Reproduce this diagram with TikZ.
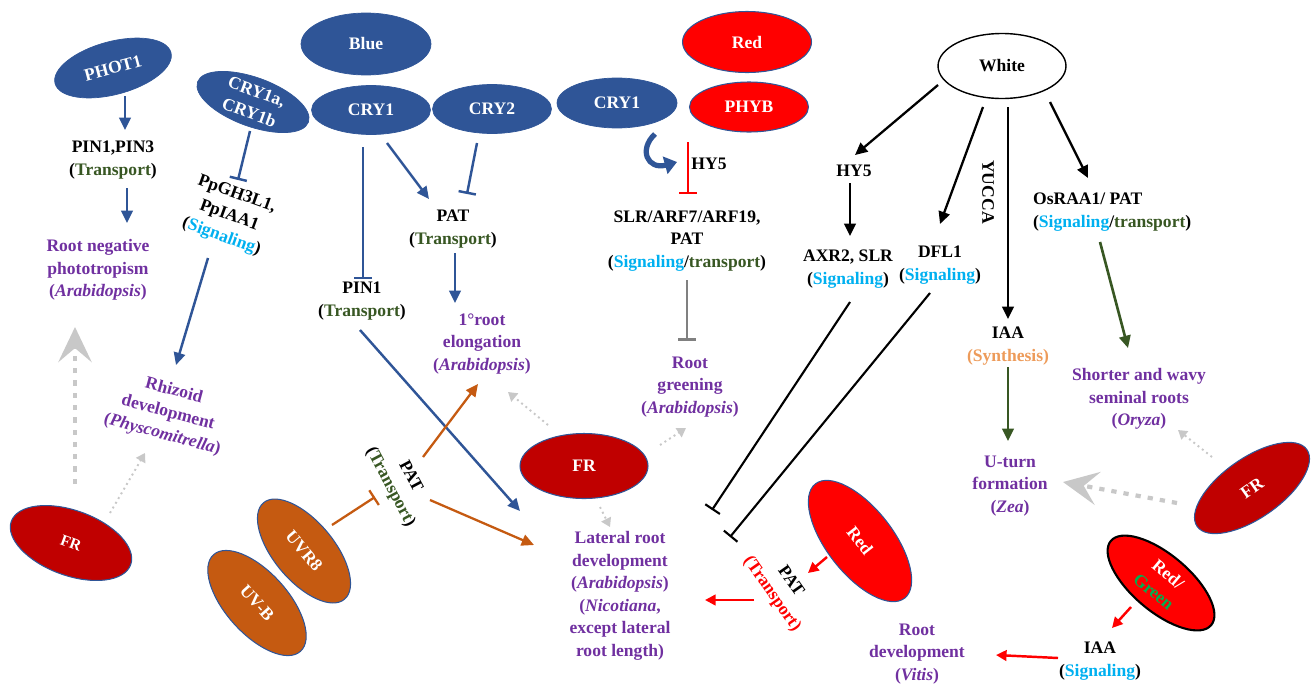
\documentclass[tikz,border=0pt]{standalone}
\usepackage{fontspec}
\setmainfont{Liberation Serif}
\usetikzlibrary{arrows.meta,shapes.geometric}
\definecolor{dblue}{HTML}{2F5597}
\definecolor{fred}{HTML}{C00000}
\definecolor{rred}{HTML}{FF0000}
\definecolor{orng}{HTML}{C55A11}
\definecolor{tgreen}{HTML}{385723}
\definecolor{sblue}{HTML}{00B0F0}
\definecolor{purp}{HTML}{7030A0}
\definecolor{synth}{HTML}{ED9B5A}
\definecolor{lgrey}{HTML}{C8C8C8}
\definecolor{mgrey}{HTML}{808080}
\definecolor{ggreen}{HTML}{00B050}
\newcommand\TrLab{(\textcolor{tgreen}{Transport})}
\newcommand\SigLab{(\textcolor{sblue}{Signaling})}
\newcommand\SigTr{(\textcolor{sblue}{Signaling}/\textcolor{tgreen}{transport})}
\newcommand\AraLab{(\textit{Arabidopsis})}
\begin{document}
\begin{tikzpicture}[x=0.02cm, y=-0.02cm,
  base/.style={font=\bfseries\fontsize{10}{12.8}\selectfont, align=center, inner sep=1pt},
  lab/.style={base, text=black},
  res/.style={base, text=purp},
  wtxt/.style={base, text=white},
  ellb/.style={base, ellipse, inner sep=0pt, text=white},
  blueE/.style={ellb, fill=dblue, draw=dblue},
  redE/.style={ellb, fill=rred, draw=dblue, line width=0.6pt},
  frE/.style={ellb, fill=fred, draw=dblue, line width=0.6pt},
  orE/.style={ellb, fill=orng, draw=dblue, line width=0.6pt},
  actB/.style={draw=dblue, line width=1.4pt, -{Triangle[length=7pt,width=6.5pt]}},
  inhB/.style={draw=dblue, line width=1.4pt, -{Bar[width=10pt]}},
  actK/.style={draw=black, line width=1.3pt, -{Triangle[length=7pt,width=6.5pt]}},
  inhK/.style={draw=black, line width=1.2pt, -{Bar[width=10pt]}},
  actR/.style={draw=rred, line width=1.4pt, -{Triangle[length=6pt,width=6pt]}},
  inhR/.style={draw=rred, line width=1.4pt, -{Bar[width=10pt]}},
  inhG/.style={draw=mgrey, line width=1.6pt, -{Bar[width=10pt]}},
  actG/.style={draw=tgreen, line width=1.5pt, -{Triangle[length=7pt,width=6.5pt]}},
  actO/.style={draw=orng, line width=1.3pt, -{Triangle[length=7pt,width=6.5pt]}},
  inhO/.style={draw=orng, line width=1.3pt, -{Bar[width=10pt]}},
  dotS/.style={draw=lgrey, line width=1.1pt, dotted, -{Triangle[length=5pt,width=6pt]}},
  dashL/.style={draw=lgrey, line width=2.4pt, dash pattern=on 3pt off 4pt, -{Stealth[length=20pt,width=19pt,inset=8pt]}},
]
\useasboundingbox (0,0) rectangle (1311,683);

% ---------- ellipses ----------
\node[blueE, minimum width=2.6cm, minimum height=1.24cm] (blue) at (366,44) {Blue};
\node[blueE, minimum width=2.38cm, minimum height=0.98cm] (cry1) at (371,110) {CRY1};
\node[blueE, minimum width=2.38cm, minimum height=0.98cm] (cry2) at (492,109) {CRY2};
\node[blueE, minimum width=2.4cm, minimum height=1.0cm] (cry1r) at (617,103) {CRY1};
\node[redE, minimum width=2.58cm, minimum height=1.22cm] (redtop) at (747,42) {Red};
\node[redE, minimum width=2.38cm, minimum height=1.0cm] (phyb) at (749,107) {PHYB};
\node[ellb, draw=black, fill=white, text=black, line width=0.8pt, minimum width=2.56cm, minimum height=1.3cm] (white) at (1002,66) {White};
\node[blueE, minimum width=2.4cm, minimum height=1.06cm, rotate=15] (phot) at (113,68) {PHOT1};
\node[blueE, minimum width=2.36cm, minimum height=0.98cm, rotate=-20] (cry1ab) at (253,102) {};
\node[wtxt, rotate=-20] (cry1abt) at (cry1ab) {CRY1a,\\CRY1b};

\node[frE, minimum width=2.54cm, minimum height=1.3cm, rotate=-20, font=\bfseries\fontsize{9}{11}\selectfont] (fr1) at (71,543) {FR};
\node[orE, minimum width=2.52cm, minimum height=1.2cm, rotate=-50] (uvr8) at (304,551) {UVR8};
\node[orE, minimum width=2.6cm, minimum height=1.24cm, rotate=-48] (uvb) at (257,603) {UV-B};
\node[frE, minimum width=2.56cm, minimum height=1.3cm] (fr2) at (584,466) {FR};
\node[redE, minimum width=2.9cm, minimum height=1.32cm, rotate=-52] (redm) at (860,541) {Red};
\node[frE, minimum width=2.68cm, minimum height=1.2cm, rotate=35] (fr3) at (1252,488) {FR};
\node[redE, draw=black, line width=1.2pt, minimum width=2.62cm, minimum height=1.14cm, rotate=-40] (rg) at (1161,583) {};
\node[wtxt, rotate=-40] (rgt) at (rg) {Red/\\\textcolor{ggreen}{Green}};

% ---------- text nodes ----------
\node[lab] (pinA) at (113,160) {PIN1,PIN3\\\TrLab};
\node[res] (rneg) at (98,270) {Root negative\\phototropism\\\AraLab};
\node[lab, rotate=-20] (ppgh) at (229,216) {PpGH3L1,\\PpIAA1\\\SigLab};
\node[res, rotate=-15] (rhiz) at (168,413) {Rhizoid\\development\\(\textit{Physcomitrella})};
\node[lab] (pat1) at (453,229) {PAT\\\TrLab};
\node[lab] (pin1) at (362,301) {PIN1\\\TrLab};
\node[res] (elong) at (482,344) {1°root\\elongation\\\AraLab};
\node[lab] (slr) at (687,241) {SLR/ARF7/ARF19,\\PAT\\\SigTr};
\node[lab] (hy5a) at (709,164) {HY5};
\node[res] (green) at (690,387) {Root\\greening\\\AraLab};
\node[res] (lat) at (620,596) {Lateral root\\development\\\AraLab\\(\textit{Nicotiana},\\except lateral\\root length)};
\node[lab, rotate=-62] (patU) at (400,482) {PAT\\\TrLab};
\node[lab, rotate=-55] (patR) at (781,588) {PAT\\\textcolor{rred}{(Transport)}};
\node[lab] (hy5b) at (854,171) {HY5};
\node[lab] (axr) at (848,269) {AXR2, SLR\\\SigLab};
\node[lab] (dfl) at (940,265) {DFL1\\\SigLab};
\node[lab, rotate=-90] (yucca) at (988,192) {YUCCA};
\node[lab] (iaa1) at (1008,346) {IAA\\\textcolor{synth}{(Synthesis)}};
\node[res] (uturn) at (1010,486) {U-turn\\formation\\(\textit{Zea})};
\node[lab, align=left, anchor=west] (osraa) at (1031,212) {OsRAA1/ PAT\\\SigTr};
\node[res] (short) at (1139,399) {Shorter and wavy\\seminal roots\\(\textit{Oryza})};
\node[lab] (iaa2) at (1100,661) {IAA\\\SigLab};
\node[res] (vitis) at (917,654) {Root\\development\\(\textit{Vitis})};

% ---------- connector end points ----------
\coordinate (photS) at (125,96);   \coordinate (pinAN) at (125,130);
\coordinate (pinAS) at (127,188);  \coordinate (rnegN) at (127,223);
\coordinate (cryabS) at (250,131); \coordinate (ppghN) at (238,180);
\coordinate (ppghS) at (208,258);  \coordinate (rhizN) at (176,365);
\coordinate (cry1S) at (363,147);  \coordinate (pin1N) at (363,279);
\coordinate (cry1SE) at (387,143); \coordinate (pat1NW) at (429,199);
\coordinate (cry2S) at (477,143);  \coordinate (pat1NE) at (467,194);
\coordinate (pat1S) at (455,253);  \coordinate (elongN) at (455,303);
\coordinate (pin1S) at (360,330);  \coordinate (latNW) at (520,511);
\coordinate (crS) at (655,134);    \coordinate (hyTip) at (677,162);
\coordinate (hyT) at (688,142);    \coordinate (slrN) at (688,194);
\coordinate (slrS) at (687,280);   \coordinate (greenN) at (687,341);
\coordinate (redmW) at (827,557);  \coordinate (patRN) at (808,573);
\coordinate (patRW) at (754,600);  \coordinate (latE) at (705,600);
\coordinate (rgS) at (1131,607);   \coordinate (iaa2N) at (1112,628);
\coordinate (iaa2W) at (1058,658); \coordinate (vitisE) at (996,655);
\coordinate (whA) at (938,85);     \coordinate (hy5bN) at (855,155);
\coordinate (hy5bS) at (850,183);  \coordinate (axrN) at (850,236);
\coordinate (whB) at (983,107);    \coordinate (dflN) at (940,224);
\coordinate (whC) at (1008,107);   \coordinate (iaa1N) at (1008,319);
\coordinate (whD) at (1050,102);   \coordinate (osraaN) at (1088,178);
\coordinate (axrS) at (850,302);   \coordinate (latI1) at (712,510);
\coordinate (dflS) at (930,293);   \coordinate (latI2) at (730,537);
\coordinate (iaa1S) at (1008,367); \coordinate (uturnN) at (1008,441);
\coordinate (osraaS) at (1100,242);\coordinate (shortN) at (1128,348);
\coordinate (patUNE) at (423,457); \coordinate (elongSW) at (478,384);
\coordinate (patUE) at (430,500);  \coordinate (latW) at (534,545);
\coordinate (uvr8NE) at (332,525); \coordinate (patUSW) at (375,497);
\coordinate (fr1N) at (75,484);    \coordinate (rnegS) at (75,327);
\coordinate (fr1NE) at (110,513);  \coordinate (rhizS) at (145,453);
\coordinate (fr2NW) at (548,425);  \coordinate (elongSE) at (508,392);
\coordinate (fr2NE) at (660,445);  \coordinate (greenS) at (686,428);
\coordinate (fr2S) at (600,507);   \coordinate (latN) at (610,527);
\coordinate (fr3NW) at (1212,457); \coordinate (shortS) at (1178,430);
\coordinate (fr3W) at (1177,503);  \coordinate (uturnE) at (1063,482);

% ---------- blue connectors ----------
\draw[actB] (photS) -- (pinAN);
\draw[actB] (pinAS) -- (rnegN);
\draw[inhB] (cryabS) -- (ppghN);
\draw[actB] (ppghS) -- (rhizN);
\draw[inhB] (cry1S) -- (pin1N);
\draw[actB] (cry1SE) -- (pat1NW);
\draw[inhB] (cry2S) -- (pat1NE);
\draw[actB] (pat1S) -- (elongN);
\draw[actB] (pin1S) -- (latNW);
\draw[draw=dblue, line width=3pt, -{Triangle[length=7pt,width=10pt]}] (crS) .. controls (638,150) and (648,170) .. (hyTip);

% ---------- red / grey ----------
\draw[inhR] (hyT) -- (slrN);
\draw[inhG] (slrS) -- (greenN);
\draw[actR] (redmW) -- (patRN);
\draw[actR] (patRW) -- (latE);
\draw[actR] (rgS) -- (iaa2N);
\draw[actR] (iaa2W) -- (vitisE);

% ---------- black ----------
\draw[actK] (whA) -- (hy5bN);
\draw[actK] (hy5bS) -- (axrN);
\draw[actK] (whB) -- (dflN);
\draw[actK] (whC) -- (iaa1N);
\draw[actK] (whD) -- (osraaN);
\draw[inhK] (axrS) -- (latI1);
\draw[inhK] (dflS) -- (latI2);

% ---------- green ----------
\draw[actG] (iaa1S) -- (uturnN);
\draw[actG] (osraaS) -- (shortN);

% ---------- orange ----------
\draw[actO] (patUNE) -- (elongSW);
\draw[actO] (patUE) -- (latW);
\draw[inhO] (uvr8NE) -- (patUSW);

% ---------- grey dotted (FR) ----------
\draw[dashL] (fr1N) -- (rnegS);
\draw[dotS] (fr1NE) -- (rhizS);
\draw[dotS] (fr2NW) -- (elongSE);
\draw[dotS] (fr2NE) -- (greenS);
\draw[dotS] (fr2S) -- (latN);
\draw[dotS] (fr3NW) -- (shortS);
\draw[dashL] (fr3W) -- (uturnE);
\end{tikzpicture}
\end{document}
